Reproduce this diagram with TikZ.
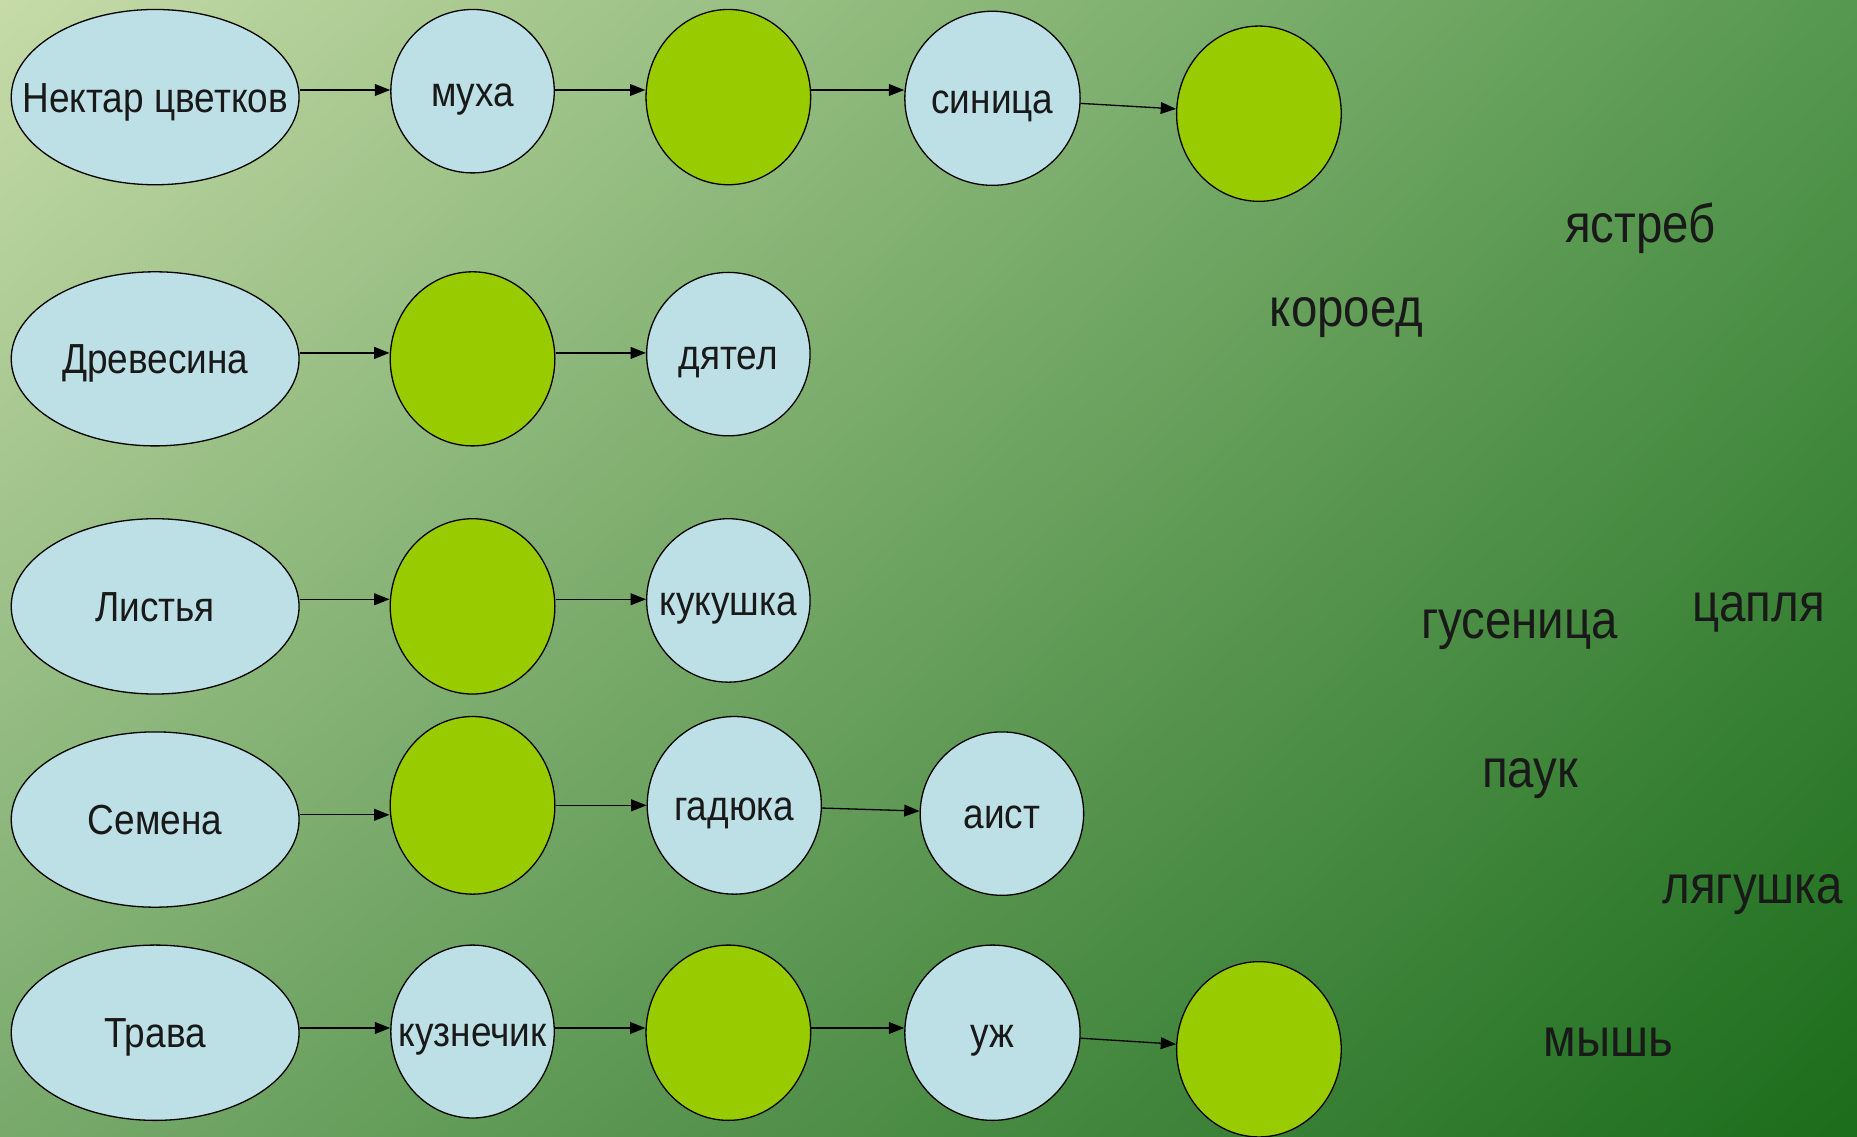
\documentclass[tikz,border=0pt]{standalone}
\usepackage{fontspec}
\setmainfont{Liberation Sans}[FakeStretch=0.88]
\usetikzlibrary{shapes.geometric,arrows.meta,shadings}
\definecolor{bgUL}{HTML}{C6DBA8}
\definecolor{bgUR}{HTML}{56984F}
\definecolor{bgLL}{HTML}{78AA6C}
\definecolor{bgLR}{HTML}{1B6C1B}
\definecolor{lightblue}{HTML}{BDE0E6}
\definecolor{leaf}{HTML}{99CC00}
\newcommand{\lbl}[1]{\smash{\raisebox{-0.36em}{\makebox[0pt]{#1}}}}
\tikzset{
  base/.style={ellipse, draw=black, line width=1.1pt, inner sep=0pt,
    font=\fontsize{35.5}{40}\selectfont, text=black!90},
  srcnode/.style={base, fill=lightblue, minimum width=243pt, minimum height=148pt},
  animal/.style={base, fill=lightblue, minimum width=138pt, minimum height=138pt},
  blank/.style={base, fill=leaf, minimum width=139pt, minimum height=148pt},
  word/.style={font=\fontsize{45.5}{50}\selectfont, text=black!90, inner sep=0pt},
  arr/.style={-{Triangle[length=13pt,width=10pt]}, line width=1.1pt, black}
}
\begin{document}
\begin{tikzpicture}[x=1pt,y=-1pt]
\useasboundingbox (0,0) rectangle (1568,960);
\shade[upper left=bgUL, upper right=bgUR, lower left=bgLL, lower right=bgLR] (0,0) rectangle (1568,960);

% Row 1
\node[srcnode] (n1) at (131,82) {\lbl{Нектар цветков}};
\node[animal] (m1) at (399,77) {\lbl{муха}};
\node[blank] (g11) at (615,82) {};
\node[animal, minimum width=148pt, minimum height=147pt] (s1) at (838,83) {\lbl{синица}};
\node[blank] (g12) at (1063,96) {};
\draw[arr] (n1.east |- 0,76) -- (m1.west |- 0,76);
\draw[arr] (m1.east |- 0,76) -- (g11.west |- 0,76);
\draw[arr] (g11.east |- 0,76) -- (s1.west |- 0,76);
\draw[arr] (s1) -- (g12);

% Row 2
\node[srcnode, minimum height=147pt] (n2) at (131,303) {\lbl{Древесина}};
\node[blank, minimum height=147pt] (g21) at (399,303) {};
\node[animal] (d2) at (615,299) {\lbl{дятел}};
\draw[arr] (n2.east |- 0,298) -- (g21.west |- 0,298);
\draw[arr] (g21.east |- 0,298) -- (d2.west |- 0,298);

% Row 3
\node[srcnode] (n3) at (131,512) {\lbl{Листья}};
\node[blank] (g31) at (399,512) {};
\node[animal] (k3) at (615,507) {\lbl{кукушка}};
\draw[arr] (n3.east |- 0,506) -- (g31.west |- 0,506);
\draw[arr] (g31.east |- 0,506) -- (k3.west |- 0,506);

% Row 4
\node[srcnode] (n4) at (131,692) {\lbl{Семена}};
\node[blank, minimum height=150pt] (g41) at (399,680) {};
\node[animal, minimum width=147pt, minimum height=150pt] (v4) at (620,680) {\lbl{гадюка}};
\node[animal] (a4) at (846,687) {\lbl{аист}};
\draw[arr] (n4.east |- 0,688) -- (g41.west |- 0,688);
\draw[arr] (g41) -- (v4);
\draw[arr] (v4) -- (a4);

% Row 5
\node[srcnode] (n5) at (131,872) {\lbl{Трава}};
\node[animal, minimum height=146pt] (k5) at (399,871) {\lbl{кузнечик}};
\node[blank] (g51) at (615,872) {};
\node[animal, minimum width=148pt, minimum height=148pt] (u5) at (838,872) {\lbl{уж}};
\node[blank] (g52) at (1063,886) {};
\draw[arr] (n5.east |- 0,868) -- (k5.west |- 0,868);
\draw[arr] (k5.east |- 0,868) -- (g51.west |- 0,868);
\draw[arr] (g51.east |- 0,868) -- (u5.west |- 0,868);
\draw[arr] (u5) -- (g52);

% Free words
\node[word] (w1) at (1385,193) {ястреб};
\node[word] (w2) at (1137,268) {короед};
\node[word] (w3) at (1283,532) {гусеница};
\node[word] (w4) at (1485,517) {цапля};
\node[word] (w5) at (1292,657) {паук};
\node[word] (w6) at (1480,755) {лягушка};
\node[word] (w7) at (1358,880) {мышь};
\end{tikzpicture}
\end{document}
